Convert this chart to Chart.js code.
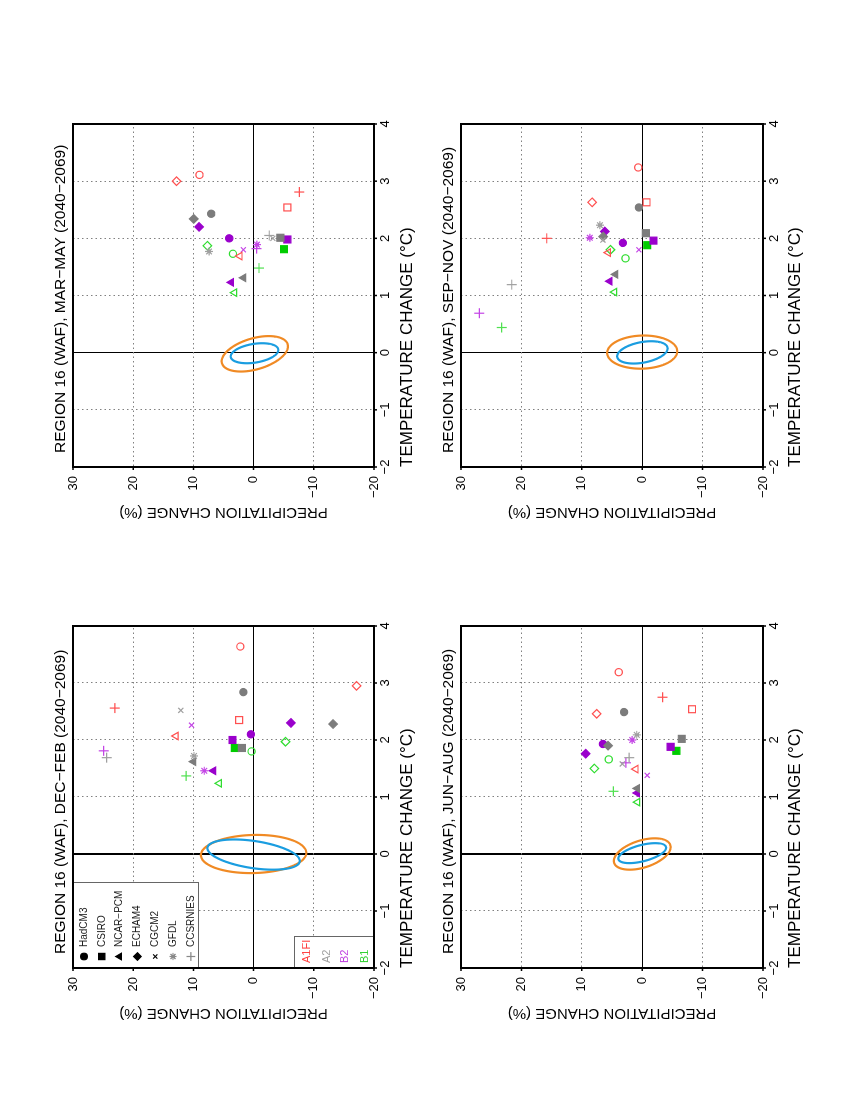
<!DOCTYPE html>
<html><head><meta charset="utf-8">
<script src="https://cdn.jsdelivr.net/npm/chart.js@4.4.1/dist/chart.umd.min.js"></script>
<style>
html,body{margin:0;padding:0;background:#fff;}
#page{position:relative;width:850px;height:1100px;overflow:hidden;background:#fff;}
.panel{position:absolute;width:400px;height:430px;}
.panel canvas{position:absolute;left:0;top:0;transform-origin:0 0;transform:translate(0px,430px) rotate(-90deg);}
</style></head><body>
<div id="page">
 <div class="panel" style="left:30px;top:99px"><canvas id="c_mam" width="430" height="400"></canvas></div>
 <div class="panel" style="left:418px;top:99px"><canvas id="c_son" width="430" height="400"></canvas></div>
 <div class="panel" style="left:30px;top:600px"><canvas id="c_djf" width="430" height="400"></canvas></div>
 <div class="panel" style="left:418px;top:600px"><canvas id="c_jja" width="430" height="400"></canvas></div>
</div>
<script>
// ---------------- DATA ----------------
const models = ["HadCM3", "CSIRO", "NCAR\u2212PCM", "ECHAM4", "CGCM2", "GFDL", "CCSRNIES"];
const scenarios = ["A1FI", "A2", "B2", "B1"];
const tempTicks = [-2, -1, 0, 1, 2, 3, 4];
const precTicks = [-20, -10, 0, 10, 20, 30];

// DEC-FEB  (temperature change degC, precipitation change %), order = models
const djfTempA1FI = [3.64, 2.35, 2.07, 2.95, null, null, 2.56];
const djfPrecA1FI = [2.2, 2.4, 12.9, -17.1, null, null, 23.05];
const djfTempA2 = [2.84, 1.86, 1.62, 2.28, 2.52, 1.72, 1.69];
const djfPrecA2 = [1.7, 1.95, 10.0, -13.2, 12.1, 9.9, 24.4];
const djfTempB2 = [2.10, 2.00, 1.46, 2.30, 2.26, 1.46, 1.81];
const djfPrecB2 = [0.45, 3.5, 6.67, -6.2, 10.3, 8.2, 24.9];
const djfTempB1 = [1.80, 1.86, 1.24, 1.97, null, null, 1.37];
const djfPrecB1 = [0.33, 3.1, 5.7, -5.3, null, null, 11.2];

// MAR-MAY
const mamTempA1FI = [3.11, 2.54, 1.69, 3.0, null, null, 2.81];
const mamPrecA1FI = [9.0, -5.6, 2.28, 12.8, null, null, -7.6];
const mamTempA2 = [2.43, 2.01, 1.31, 2.34, 2.0, 1.77, 2.05];
const mamPrecA2 = [7.05, -4.44, 1.67, 9.94, -3.2, 7.4, -2.6];
const mamTempB2 = [2.0, 1.98, 1.23, 2.2, 1.80, 1.89, 1.82];
const mamPrecB2 = [4.05, -5.6, 3.7, 9.05, 1.7, -0.55, -0.5];
const mamTempB1 = [1.73, 1.81, 1.05, 1.87, null, null, 1.48];
const mamPrecB1 = [3.44, -5.05, 3.17, 7.67, null, null, -0.9];

// JUN-AUG
const jjaTempA1FI = [3.19, 2.54, 1.49, 2.46, null, null, 2.75];
const jjaPrecA1FI = [3.88, -8.25, 1.05, 7.53, null, null, -3.38];
const jjaTempA2 = [2.49, 2.02, 1.15, 1.90, 1.58, 2.09, 1.69];
const jjaPrecA2 = [3.0, -6.54, 0.83, 5.65, 3.3, 0.9, 2.16];
const jjaTempB2 = [1.93, 1.88, 1.07, 1.76, 1.38, 2.0, 1.6];
const jjaPrecB2 = [6.5, -4.7, 0.83, 9.36, -0.83, 1.66, 2.7];
const jjaTempB1 = [1.66, 1.81, 0.91, 1.5, null, null, 1.10];
const jjaPrecB1 = [5.54, -5.65, 0.78, 7.92, null, null, 4.76];

// SEP-NOV
const sonTempA1FI = [3.24, 2.63, 1.75, 2.63, null, null, 2.0];
const sonPrecA1FI = [0.65, -0.72, 5.64, 8.29, null, null, 15.8];
const sonTempA2 = [2.54, 2.09, 1.37, 2.03, 1.97, 2.23, 1.19];
const sonPrecA2 = [0.55, -0.6, 4.42, 6.46, 6.5, 7.0, 21.6];
const sonTempB2 = [1.92, 1.96, 1.25, 2.12, 1.80, 2.01, 0.69];
const sonPrecB2 = [3.2, -1.88, 5.36, 6.19, 0.55, 8.67, 26.97];
const sonTempB1 = [1.65, 1.88, 1.06, 1.80, null, null, 0.44];
const sonPrecB1 = [2.76, -0.83, 4.59, 5.25, null, null, 23.26];

// natural-variability ellipses: [centre temp, centre precip, temp half-range, precip half-range, temp/precip correlation]
const djfOrange = [0.0, 0.0, 0.335, 8.75, -0.06];
const djfBlue = [-0.01, 0.0, 0.265, 7.67, 0.42];
const mamOrange = [-0.02, -0.2, 0.31, 5.5, -0.42];
const mamBlue = [-0.01, -0.15, 0.175, 3.95, -0.32];
const jjaOrange = [0.0, 0.0, 0.275, 4.7, -0.44];
const jjaBlue = [0.015, 0.0, 0.175, 3.95, -0.54];
const sonOrange = [0.01, 0.0, 0.29, 5.8, -0.05];
const sonBlue = [0.005, -0.03, 0.195, 4.17, -0.35];

// ---------------- STYLE ----------------
const FONT = "'Liberation Sans', Arial, Helvetica, sans-serif";
Chart.defaults.font.family = FONT;
Chart.defaults.color = '#000';
const shapes = ['circle', 'rect', 'triangle', 'rectRot', 'crossRot', 'star', 'cross'];
const radii = [3.6, 4.9, 4.3, 4.3, 3.6, 4.0, 5.0];
const isLineShape = m => m >= 4;
const scStroke = ['#ff5050', '#7c7c7c', '#9a00cc', '#30dd30'];
const scLine = ['#ff5050', '#a0a0a0', '#c445e6', '#50e050'];
const scFill = [null, '#7c7c7c', '#9a00cc', null];
const orangeCol = '#f08a24';
const blueCol = '#1a9de0';

function pointFill(sc, m) {
  if (sc === 3 && m === 1) return '#00cc00';
  return scFill[sc] || 'rgba(255,255,255,0)';
}
function pointStroke(sc, m) {
  if (isLineShape(m)) return scLine[sc];
  if (sc === 3 && m === 1) return '#00cc00';
  return scStroke[sc];
}
function buildSet(temps, precs, sc) {
  const pts = [];
  temps.forEach((t, i) => { if (t !== null && precs[i] !== null) pts.push({x: t, y: precs[i], m: i}); });
  return {
    label: scenarios[sc], data: pts, showLine: false,
    pointStyle: c => shapes[c.raw.m],
    pointRadius: c => radii[c.raw.m],
    pointHoverRadius: c => radii[c.raw.m],
    pointBorderWidth: 1.2,
    pointBorderColor: c => pointStroke(sc, c.raw.m),
    pointBackgroundColor: c => pointFill(sc, c.raw.m)
  };
}
const minus = v => (v < 0 ? '\u2212' + Math.abs(v) : String(v));

const panelPlugin = {
  id: 'panel',
  beforeDatasetsDraw(chart, args, opts) {
    const {ctx, chartArea: a, scales: {x, y}} = chart;
    ctx.save();
    ctx.beginPath(); ctx.rect(a.left, a.top, a.right - a.left, a.bottom - a.top); ctx.clip();
    (opts.ellipses || []).forEach(([e, col]) => {
      const [tc, pc, tA, pA, rho] = e;
      const phi = Math.acos(rho);
      ctx.beginPath();
      for (let k = 0; k <= 180; k++) {
        const th = 2 * Math.PI * k / 180;
        const px = x.getPixelForValue(tc + tA * Math.cos(th + phi));
        const py = y.getPixelForValue(pc + pA * Math.cos(th));
        if (k === 0) ctx.moveTo(px, py); else ctx.lineTo(px, py);
      }
      ctx.closePath();
      ctx.strokeStyle = col; ctx.lineWidth = 2.2; ctx.stroke();
    });
    ctx.restore();
  },
  afterDatasetsDraw(chart, args, opts) {
    const {ctx, chartArea: a, scales: {x, y}} = chart;
    ctx.save();
    // legends (DEC-FEB only)
    if (opts.legend) {
      ctx.fillStyle = '#fff'; ctx.strokeStyle = '#666'; ctx.lineWidth = 1;
      ctx.fillRect(a.left, a.top, 85, 125);
      ctx.strokeRect(a.left + 0.5, a.top + 0.5, 85, 125);
      ctx.font = '10px ' + FONT; ctx.textBaseline = 'middle'; ctx.textAlign = 'left';
      models.forEach((name, i) => {
        const yy = a.top + 11 + i * 17.8;
        const col = i >= 5 ? '#888' : '#000';
        ctx.fillStyle = col; ctx.strokeStyle = col; ctx.lineWidth = 1.2;
        const r = [3.3, 4.4, 3.8, 3.8, 3.0, 3.6, 4.4][i];
        if (Chart.helpers && Chart.helpers.drawPoint) {
          Chart.helpers.drawPoint(ctx, {pointStyle: shapes[i], radius: r, rotation: 0, borderWidth: 1.2}, a.left + 11.5, yy);
        }
        ctx.fillStyle = '#222';
        ctx.fillText(name, a.left + 21, yy);
      });
      const h = a.bottom - (a.top + 221);
      ctx.fillStyle = '#fff'; ctx.strokeStyle = '#666'; ctx.lineWidth = 1;
      ctx.fillRect(a.left, a.top + 221, 31, h);
      ctx.strokeRect(a.left + 0.5, a.top + 221.5, 31, h);
      ctx.font = '11px ' + FONT;
      const sCols = ['#ff4040', '#a0a0a0', '#c040e0', '#30d030'];
      [233.7, 253.7, 272, 292].forEach((yy, i) => {
        ctx.fillStyle = sCols[i];
        ctx.fillText(scenarios[i], a.left + 5, a.top + yy);
      });
    }
    // frame
    ctx.strokeStyle = '#000'; ctx.lineWidth = 2;
    ctx.strokeRect(a.left, a.top, a.right - a.left, a.bottom - a.top);
    // short outward tick marks at major ticks
    ctx.lineWidth = 1.5;
    ctx.beginPath();
    tempTicks.forEach(v => { const px = x.getPixelForValue(v); ctx.moveTo(px, a.bottom); ctx.lineTo(px, a.bottom + 3); });
    precTicks.forEach(v => { const py = y.getPixelForValue(v); ctx.moveTo(a.left, py); ctx.lineTo(a.left - 3, py); });
    ctx.stroke();
    // title
    ctx.fillStyle = '#000'; ctx.font = '15.5px ' + FONT;
    ctx.textAlign = 'left'; ctx.textBaseline = 'middle';
    ctx.fillText(opts.title, a.left + 14, a.top - 12);
    ctx.restore();
  }
};

function makePanel(id, title, sets, ells, legend, rightPad, bottomH, zeroW) {
  const isZero = c => c.tick && c.tick.value === 0;
  new Chart(document.getElementById(id), {
    type: 'scatter',
    data: {datasets: sets},
    plugins: [panelPlugin],
    options: {
      responsive: false, animation: false, devicePixelRatio: 1,
      layout: {padding: {top: 43, right: rightPad, bottom: 0, left: 0}},
      plugins: {
        legend: {display: false}, tooltip: {enabled: false},
        panel: {title: title, ellipses: ells, legend: legend}
      },
      scales: {
        x: {
          type: 'linear', min: -2, max: 4, position: 'bottom',
          afterBuildTicks: s => { s.ticks = tempTicks.map(v => ({value: v})); },
          afterFit: s => { s.height = bottomH; },
          ticks: {callback: v => minus(v), font: {size: 13}, padding: 4, maxRotation: 0, autoSkip: false},
          grid: {color: c => isZero(c) ? '#000' : '#808080', lineWidth: c => isZero(c) ? zeroW : 1, drawTicks: false},
          border: {display: true, color: '#000', width: 2, dash: c => isZero(c) ? [] : [1.5, 3]},
          title: {display: true, text: 'TEMPERATURE CHANGE (\u00b0C)', align: 'start', font: {size: 17}, padding: {top: 0, bottom: 12}}
        },
        y: {
          type: 'linear', min: -20, max: 30, position: 'left',
          afterBuildTicks: s => { s.ticks = precTicks.map(v => ({value: v})); },
          afterFit: s => { s.width = 62; },
          ticks: {callback: v => minus(v), font: {size: 13}, padding: 9, autoSkip: false},
          grid: {color: c => isZero(c) ? '#000' : '#808080', lineWidth: 1, drawTicks: false},
          border: {display: true, color: '#000', width: 2, dash: c => isZero(c) ? [] : [1.5, 3]},
          title: {display: true, text: 'PRECIPITATION CHANGE (%)', font: {size: 15}, padding: {top: 8, bottom: 0}}
        }
      }
    }
  });
}

makePanel('c_mam', 'REGION 16 (WAF), MAR\u2212MAY (2040\u22122069)', [
  buildSet(mamTempA1FI, mamPrecA1FI, 0), buildSet(mamTempA2, mamPrecA2, 1),
  buildSet(mamTempB2, mamPrecB2, 2), buildSet(mamTempB1, mamPrecB1, 3)
], [[mamOrange, orangeCol], [mamBlue, blueCol]], false, 25, 56, 1);

makePanel('c_son', 'REGION 16 (WAF), SEP\u2212NOV (2040\u22122069)', [
  buildSet(sonTempA1FI, sonPrecA1FI, 0), buildSet(sonTempA2, sonPrecA2, 1),
  buildSet(sonTempB2, sonPrecB2, 2), buildSet(sonTempB1, sonPrecB1, 3)
], [[sonOrange, orangeCol], [sonBlue, blueCol]], false, 25, 55, 1);

makePanel('c_djf', 'REGION 16 (WAF), DEC\u2212FEB (2040\u22122069)', [
  buildSet(djfTempA1FI, djfPrecA1FI, 0), buildSet(djfTempA2, djfPrecA2, 1),
  buildSet(djfTempB2, djfPrecB2, 2), buildSet(djfTempB1, djfPrecB1, 3)
], [[djfOrange, orangeCol], [djfBlue, blueCol]], true, 26, 56, 2);

makePanel('c_jja', 'REGION 16 (WAF), JUN\u2212AUG (2040\u22122069)', [
  buildSet(jjaTempA1FI, jjaPrecA1FI, 0), buildSet(jjaTempA2, jjaPrecA2, 1),
  buildSet(jjaTempB2, jjaPrecB2, 2), buildSet(jjaTempB1, jjaPrecB1, 3)
], [[jjaOrange, orangeCol], [jjaBlue, blueCol]], false, 26, 55, 2);
</script>
</body></html>
